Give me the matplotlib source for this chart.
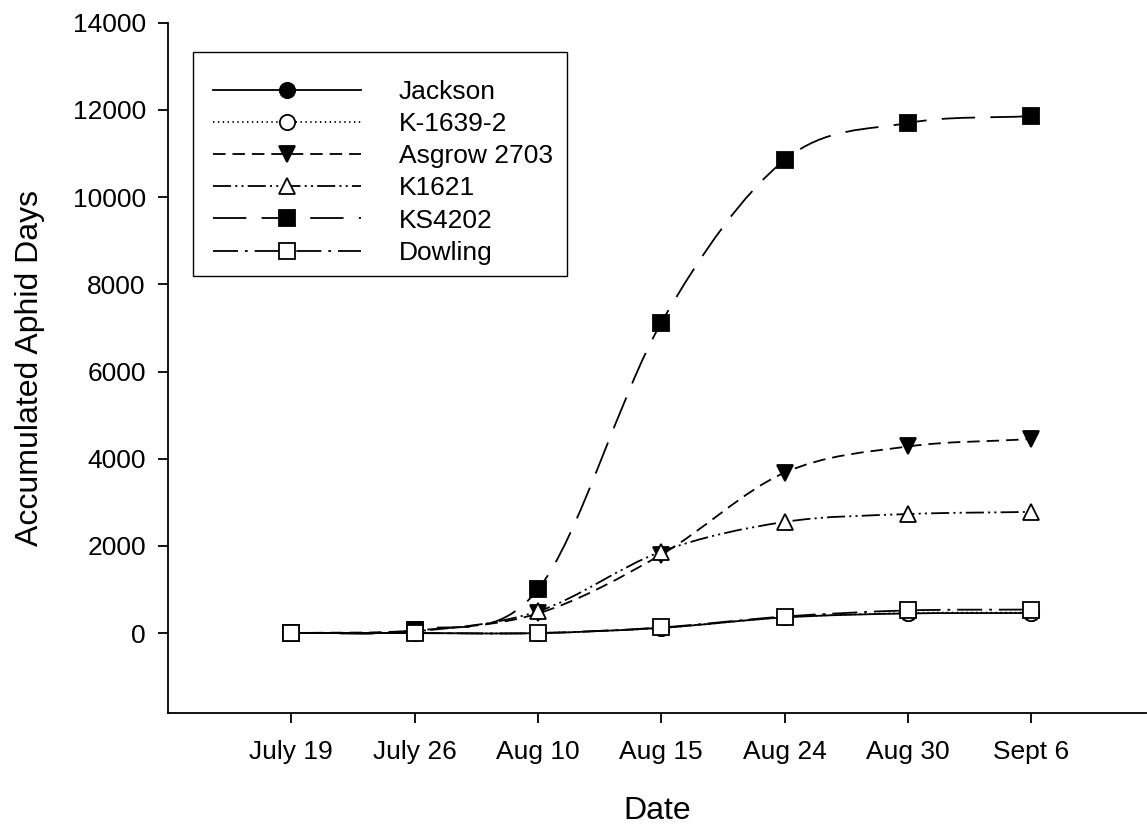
import numpy as np
import matplotlib
matplotlib.use("Agg")
import matplotlib.pyplot as plt
from matplotlib.path import Path
from matplotlib.patches import PathPatch, Rectangle
from matplotlib.lines import Line2D

plt.rcParams['font.family'] = ['Liberation Sans', 'DejaVu Sans']
plt.rcParams['lines.scale_dashes'] = False

dates = ["July 19", "July 26", "Aug 10", "Aug 15", "Aug 24", "Aug 30", "Sept 6"]

jackson = [0, 0, 0, 120, 360, 450, 460]
k1639 = [0, 0, 0, 120, 360, 460, 470]
asgrow = [0, 60, 450, 1800, 3680, 4280, 4450]
k1621 = [0, 40, 500, 1870, 2550, 2730, 2780]
ks4202 = [0, 80, 1000, 7120, 10850, 11700, 11860]
dowling = [0, 0, 0, 130, 380, 520, 540]

names = ["Jackson", "K-1639-2", "Asgrow 2703", "K1621", "KS4202", "Dowling"]
series = [jackson, k1639, asgrow, k1621, ks4202, dowling]
markers = ["o", "o", "v", "^", "s", "s"]
fills = ["black", "white", "black", "white", "black", "white"]
styles = [
    "-",
    (0, (1, 2.5)),
    (0, (9, 5)),
    (0, (13, 3, 1.5, 3, 1.5, 3)),
    (0, (24, 11)),
    (0, (18, 5, 2, 5)),
]


def smooth_path(x, y):
    # Catmull-Rom style cubic Bezier through the points
    x = np.asarray(x, float)
    y = np.asarray(y, float)
    n = len(x)
    tx = np.zeros(n)
    ty = np.zeros(n)
    for i in range(n):
        a = max(i - 1, 0)
        b = min(i + 1, n - 1)
        tx[i] = (x[b] - x[a]) / (b - a)
        ty[i] = (y[b] - y[a]) / (b - a)
    verts = [(x[0], y[0])]
    codes = [Path.MOVETO]
    for i in range(n - 1):
        verts += [(x[i] + tx[i] / 3, y[i] + ty[i] / 3),
                  (x[i + 1] - tx[i + 1] / 3, y[i + 1] - ty[i + 1] / 3),
                  (x[i + 1], y[i + 1])]
        codes += [Path.CURVE4] * 3
    return Path(verts, codes)


fig = plt.figure(figsize=(11.47, 8.27), dpi=100)
ax = fig.add_axes([0.1465, 0.138, 0.8525, 0.8345])

xpos = np.arange(1, len(dates) + 1)
handles = []
for vals, name, mk, fc, ls in zip(series, names, markers, fills, styles):
    patch = PathPatch(smooth_path(xpos, vals), fill=False, edgecolor="black",
                      linewidth=1.3, linestyle=ls, zorder=2)
    ax.add_patch(patch)
    ax.plot(xpos, vals, linestyle="none", marker=mk, markersize=11,
            markerfacecolor=fc, markeredgecolor="black", markeredgewidth=1.3,
            zorder=3)
    handles.append(Line2D([], [], color="black", linewidth=1.3, linestyle=ls,
                          marker=mk, markersize=11, markerfacecolor=fc,
                          markeredgecolor="black", markeredgewidth=1.3))

ax.set_xlim(0, 7.93)
ax.set_ylim(-1830, 14000)
ax.set_xticks(xpos)
ax.set_xticklabels(dates)
ax.set_yticks(np.arange(0, 14001, 2000))
ax.tick_params(labelsize=19, length=7, width=1.3, direction="out")
ax.tick_params(axis="x", pad=12.5)
ax.tick_params(axis="y", pad=9)

for s in ["top", "right"]:
    ax.spines[s].set_visible(False)
for s in ["left", "bottom"]:
    ax.spines[s].set_linewidth(1.3)

ax.set_xlabel("Date", fontsize=23, labelpad=23)
ax.set_ylabel("Accumulated Aphid Days", fontsize=23, labelpad=20)

# legend box drawn separately so the entries sit a little low in it, as in the original
bx0 = (193 - 168) / (1146 - 168)
bx1 = (567 - 168) / (1146 - 168)
by1 = (712.7 - 52) / 690
by0 = (712.7 - 276) / 690
ax.add_patch(Rectangle((bx0, by0), bx1 - bx0, by1 - by0, transform=ax.transAxes,
                       facecolor="white", edgecolor="black", linewidth=1.0,
                       zorder=4, clip_on=False))
leg = ax.legend(handles, names, loc="upper left",
                bbox_to_anchor=(bx0, by1 - 8 / 690),
                fontsize=19, numpoints=1, handlelength=5.6, handletextpad=1.44,
                labelspacing=0.31, borderpad=0.75, borderaxespad=0,
                frameon=False)
leg.set_zorder(5)

fig.savefig("out.png", dpi=100)
